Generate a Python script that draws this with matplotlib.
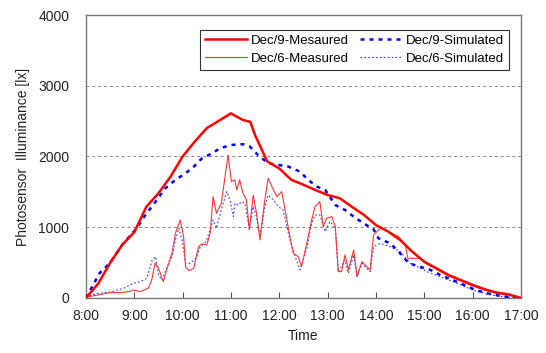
"""Photosensor illuminance, measured vs simulated, Dec/9 and Dec/6."""

import matplotlib
matplotlib.use("Agg")
import matplotlib.pyplot as plt

plt.rcParams["font.family"] = ["Liberation Sans", "DejaVu Sans"]

# Dec/9 measured (hours, lx)
t_d9_meas = [8.0, 8.25, 8.5, 8.75, 9.0, 9.25, 9.5, 9.75, 10.0, 10.25, 10.5, 10.75,
             11.0, 11.1, 11.25, 11.4, 11.5, 11.75, 12.0, 12.25, 12.5, 12.75, 13.0,
             13.25, 13.5, 13.75, 14.0, 14.25, 14.5, 14.75, 15.0, 15.25, 15.5, 15.75,
             16.0, 16.25, 16.5, 16.75, 17.0]
v_d9_meas = [0, 200, 495, 750, 930, 1290, 1480, 1715, 2000, 2210, 2400, 2505,
             2610, 2570, 2515, 2490, 2300, 1930, 1830, 1670, 1600, 1525, 1455,
             1410, 1290, 1175, 1030, 940, 820, 655, 513, 420, 325, 255,
             184, 123, 75, 50, 0]

# Dec/9 simulated
t_d9_sim = [8.0, 8.12, 8.28, 8.49, 8.76, 9.05, 9.23, 9.44, 9.64, 9.85, 10.06, 10.23,
            10.40, 10.61, 10.77, 11.01, 11.25, 11.39, 11.56, 11.77, 11.98, 12.19,
            12.43, 12.60, 12.78, 12.95, 13.16, 13.36, 13.54, 13.74, 13.95, 14.05,
            14.29, 14.44, 14.68, 14.92, 15.13, 15.33, 15.58, 15.82, 16.06, 16.30,
            16.58, 16.85, 17.0]
v_d9_sim = [0, 150, 350, 490, 760, 985, 1173, 1361, 1550, 1668, 1762, 1856,
            1974, 2045, 2115, 2163, 2173, 2140, 2020, 1904, 1880, 1856,
            1785, 1668, 1573, 1526, 1314, 1244, 1150, 1056, 971, 844,
            773, 679, 490, 440, 396, 325, 255, 184, 113, 66,
            28, 5, 0]

# Dec/6 measured
t_d6_meas = [8.0, 8.23, 8.5, 8.7, 8.9, 8.98, 9.12, 9.29, 9.36, 9.43, 9.50, 9.60,
             9.71, 9.78, 9.85, 9.95, 10.02, 10.06, 10.13, 10.23, 10.33, 10.40,
             10.50, 10.57, 10.63, 10.70, 10.80, 10.94, 11.01, 11.08, 11.12, 11.18,
             11.25, 11.32, 11.38, 11.46, 11.53, 11.60, 11.70, 11.77, 11.88, 11.95,
             12.05, 12.12, 12.22, 12.29, 12.39, 12.46, 12.57, 12.67, 12.74, 12.84,
             12.91, 12.98, 13.09, 13.16, 13.22, 13.29, 13.36, 13.43, 13.54, 13.61,
             13.71, 13.81, 13.88, 13.95, 14.09, 14.26, 14.47, 14.61, 14.66, 14.92,
             15.0, 15.25, 15.5, 15.75, 16.0, 16.25, 16.5, 16.75, 17.0]
v_d6_meas = [10, 40, 75, 75, 90, 113, 89, 137, 254, 490, 420, 230,
             490, 631, 914, 1102, 866, 442, 386, 420, 725, 763,
             749, 914, 1432, 1197, 1338, 2021, 1644, 1668, 1526, 1668,
             1479, 1385, 961, 1455, 1197, 820, 1385, 1691, 1526, 1432,
             1503, 1244, 866, 631, 584, 442, 773, 1102, 1290, 1361,
             1008, 1126, 1150, 1008, 372, 372, 608, 396, 679, 301,
             513, 442, 396, 890, 985, 937, 866, 749, 560, 560,
             500, 405, 310, 240, 170, 110, 65, 40, 0]

# Dec/6 simulated
t_d6_sim = [8.0, 8.22, 8.54, 8.78, 8.92, 8.99, 9.12, 9.26, 9.37, 9.44, 9.50, 9.57,
            9.68, 9.78, 9.85, 9.92, 9.99, 10.06, 10.16, 10.27, 10.37, 10.49,
            10.63, 10.70, 10.80, 10.91, 10.98, 11.05, 11.08, 11.15, 11.22, 11.29,
            11.38, 11.46, 11.53, 11.60, 11.70, 11.77, 11.88, 11.98, 12.08, 12.22,
            12.33, 12.43, 12.57, 12.67, 12.74, 12.84, 12.95, 13.05, 13.16, 13.22,
            13.36, 13.43, 13.54, 13.61, 13.71, 13.88, 13.95, 14.09, 14.29, 14.50,
            14.71, 14.92, 15.13, 15.33, 15.58, 15.82, 16.06, 16.30, 16.58, 16.85,
            17.0]
v_d6_sim = [10, 60, 89, 137, 184, 208, 230, 278, 537, 584, 325, 254,
            442, 584, 820, 985, 820, 490, 490, 561, 725, 800,
            1102, 985, 1244, 1503, 1385, 1150, 1338, 1314, 1361, 1338,
            985, 1290, 1150, 866, 1290, 1455, 1385, 1290, 1244, 820,
            584, 396, 703, 1056, 1173, 1173, 937, 1079, 985, 372,
            537, 349, 608, 301, 490, 372, 725, 773, 725, 655,
            490, 420, 349, 300, 235, 165, 100, 55, 20, 5,
            0]

hour_ticks = list(range(8, 18))
hour_labels = [f"{h}:00" for h in hour_ticks]
y_ticks = [0, 1000, 2000, 3000, 4000]

fig = plt.figure(figsize=(5.46, 3.53), dpi=100)
ax = fig.add_axes([0.1575, 0.156, 0.7965, 0.8015])

l1, = ax.plot(t_d9_meas, v_d9_meas, color="#ff0000", lw=1.8, label="Dec/9-Mesaured", zorder=4)
l2, = ax.plot(t_d9_sim, v_d9_sim, color="#0000ff", lw=1.8, ls=(0, (1.6, 2.0)),
              label="Dec/9-Simulated", zorder=3)
l3, = ax.plot(t_d6_meas, v_d6_meas, color="#ff3333", lw=0.8, label="Dec/6-Measured", zorder=2)
l4, = ax.plot(t_d6_sim, v_d6_sim, color="#3333ff", lw=0.8, ls=(0, (1.5, 2.0)),
              label="Dec/6-Simulated", zorder=1)

ax.set_xlim(8, 17)
ax.set_ylim(0, 4000)
ax.set_xticks(hour_ticks)
ax.set_xticklabels(hour_labels)
ax.set_yticks(y_ticks)
ax.tick_params(axis="x", direction="in", length=4, color="#555555",
               labelsize=10, pad=8, labelcolor="#222222")
ax.tick_params(axis="y", length=0, labelsize=10, pad=12, labelcolor="#222222")

for h in [1000, 2000, 3000]:
    ax.axhline(h, color="#888888", lw=0.7, ls=(0, (3, 3)), zorder=0)

for s in ax.spines.values():
    s.set_color("#777777")
    s.set_linewidth(1.0)

ax.set_xlabel("Time", fontsize=10, color="#222222", labelpad=4)
ax.set_ylabel("Photosensor  Illuminance [lx]", fontsize=10, color="#222222", labelpad=6)

# ncol=2 fills column by column: put the two Dec/9 entries on the top row
leg = ax.legend([l1, l3, l2, l4], [l.get_label() for l in (l1, l3, l2, l4)],
                loc="upper right", ncol=2, fontsize=9.5, frameon=True, fancybox=False,
                edgecolor="#333333", framealpha=1, borderpad=0.35, handlelength=3.2,
                handletextpad=0.3, columnspacing=0.8, labelspacing=0.45,
                bbox_to_anchor=(0.987, 0.97))
leg.get_frame().set_linewidth(0.8)

fig.savefig("out.png", dpi=100)
